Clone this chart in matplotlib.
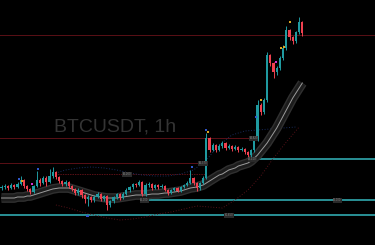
import numpy as np
import matplotlib.pyplot as plt

# ---- candle data (BTCUSDT, 1h) ----
first_open = 62120
closes = [62130, 62140, 62120, 62150, 62130, 62160, 62200, 62140, 62110, 62080,
          62140, 62200, 62170, 62220, 62180, 62240, 62280, 62230, 62190, 62160,
          62180, 62140, 62110, 62070, 62100, 62050, 62010, 62030, 62000, 62030,
          62060, 62010, 62040, 61950, 61990, 62030, 62060, 62020, 62060, 62100,
          62130, 62160, 62150, 62180, 62060, 62150, 62160, 62120, 62150, 62130,
          62140, 62100, 62070, 62100, 62120, 62090, 62130, 62150, 62170, 62220,
          62170, 62120, 62170, 62220, 62620, 62500, 62550, 62500, 62540, 62570,
          62520, 62540, 62510, 62530, 62500, 62510, 62480, 62450, 62500, 62600,
          62950, 62880, 63000, 63450, 63370, 63280, 63320, 63420, 63520, 63700,
          63630, 63590, 63680, 63780, 63670]
highs = [62150, 62160, 62150, 62170, 62160, 62180, 62240, 62210, 62150, 62120,
         62150, 62290, 62220, 62240, 62240, 62310, 62330, 62290, 62240, 62200,
         62200, 62190, 62150, 62120, 62120, 62110, 62060, 62050, 62040, 62050,
         62080, 62070, 62050, 62050, 62000, 62040, 62070, 62070, 62080, 62120,
         62140, 62170, 62170, 62200, 62190, 62170, 62180, 62170, 62160, 62160,
         62160, 62150, 62110, 62110, 62130, 62130, 62140, 62160, 62190, 62300,
         62230, 62180, 62180, 62240, 62670, 62630, 62570, 62560, 62560, 62590,
         62580, 62560, 62550, 62550, 62540, 62530, 62520, 62490, 62510, 62620,
         63000, 62970, 63020, 63480, 63460, 63380, 63340, 63440, 63550, 63740,
         63710, 63640, 63690, 63830, 63790]
lows = [62100, 62110, 62100, 62110, 62110, 62120, 62150, 62120, 62090, 62060,
        62070, 62130, 62140, 62160, 62140, 62170, 62220, 62210, 62170, 62140,
        62140, 62120, 62090, 62050, 62050, 62020, 61970, 61940, 61980, 61980,
        62020, 61990, 61990, 61900, 61930, 61970, 62010, 62000, 62010, 62050,
        62080, 62110, 62130, 62140, 62040, 62040, 62130, 62100, 62110, 62110,
        62120, 62090, 62050, 62060, 62090, 62080, 62080, 62120, 62140, 62160,
        62150, 62090, 62100, 62160, 62210, 62480, 62490, 62480, 62490, 62520,
        62500, 62510, 62490, 62500, 62480, 62490, 62460, 62420, 62430, 62480,
        62590, 62850, 62860, 62980, 63340, 63220, 63250, 63300, 63400, 63500,
        63600, 63560, 63570, 63660, 63640]

# moving average ribbon (centre line)
ma_line = [62020, 62020, 62020, 62020, 62020, 62030, 62030, 62030, 62040, 62040,
           62050, 62060, 62070, 62080, 62090, 62100, 62110, 62115, 62120, 62120,
           62120, 62120, 62110, 62100, 62090, 62080, 62070, 62060, 62050, 62040,
           62035, 62030, 62025, 62020, 62020, 62020, 62020, 62025, 62030, 62035,
           62040, 62045, 62050, 62050, 62050, 62050, 62055, 62060, 62060, 62060,
           62065, 62070, 62070, 62075, 62080, 62085, 62090, 62100, 62110, 62120,
           62125, 62130, 62140, 62150, 62170, 62190, 62210, 62230, 62250, 62260,
           62280, 62300, 62310, 62320, 62340, 62350, 62360, 62370, 62390, 62420,
           62450, 62490, 62530, 62570, 62620, 62670, 62720, 62780, 62840, 62900,
           62960, 63020, 63070, 63120, 63170]

# dotted envelope
upper_idx = [16, 20, 24, 28, 32, 36, 40, 44, 48, 52, 56, 60, 64, 68, 72, 76, 80, 84, 88, 92]
upper_val = [62260, 62300, 62320, 62330, 62320, 62300, 62270, 62250, 62240, 62240,
             62260, 62300, 62400, 62550, 62650, 62690, 62700, 62710, 62720, 62730]
lower_idx = [17, 21, 25, 29, 33, 37, 41, 45, 49, 53, 57, 61, 65, 69, 73, 77, 81, 85, 89, 93]
lower_val = [61950, 61920, 61880, 61850, 61820, 61800, 61810, 61830, 61860, 61880,
             61910, 61940, 61930, 61920, 62000, 62100, 62240, 62420, 62580, 62730]

# horizontal levels
red_levels = [63650, 62620, 62370]
red_start = [-1, -1, -1]
red_end = [117, 79.8, 63.6]
red_dot_level = 62260
red_dot_span = [16.7, 63.6]
teal_levels = [62410, 62000, 61850]
teal_start = [77.7, 43.9, -1]

# signal markers
sig_idx = [5.5, 6.3, 9.5, 11.4, 26.9, 59.5, 64.0, 64.6, 79.5, 81.1, 85.8, 87.3, 88.2, 90.2]
sig_price = [62210, 62190, 62160, 62310, 61840, 62330, 62700, 62680, 62830, 63000,
             63380, 63520, 63530, 63780]
sig_color = ["#2f56c8", "#d9a521", "#d030d0", "#2f56c8", "#2f56c8", "#2f56c8", "#2f56c8",
             "#d9a521", "#2f56c8", "#d9a521", "#d030d0", "#d9a521", "#d9a521", "#d9a521"]

# price tags on levels
tag_idx = [39.2, 44.6, 78.8, 63.0, 78.4, 105.0, 71.0]
tag_price = [62260, 62000, 62620, 62370, 62410, 62000, 61850]
tag_text = ["62,260", "62,000", "62,620", "62,370", "62,410", "62,000", "61,850"]

UP = "#1f9aa0"
DOWN = "#f0404f"
TEAL = "#2a9096"
DARKRED = "#5a1016"

fig = plt.figure(figsize=(3.75, 2.45), dpi=100, facecolor="black")
ax = fig.add_axes([0, 0, 1, 1])
ax.set_facecolor("black")
ax.set_xlim(-0.47, 116.7)
ax.set_ylim(61550, 64000)
ax.axis("off")

# level lines
for lvl, x0, x1 in zip(red_levels, red_start, red_end):
    ax.hlines(lvl, x0, x1, color=DARKRED, lw=0.7, zorder=1)
ax.hlines(red_dot_level, red_dot_span[0], red_dot_span[1], color=DARKRED, lw=0.7,
          linestyles=(0, (1.5, 1)), zorder=1)
for lvl, x0 in zip(teal_levels, teal_start):
    ax.hlines(lvl, x0, 117, color=TEAL, lw=1.4, zorder=1)

# envelope
ax.plot(upper_idx, upper_val, color="#182b5c", lw=0.7, ls=(0, (1, 1.8)), zorder=1)
ax.plot(lower_idx, lower_val, color="#561219", lw=0.7, ls=(0, (1, 1.8)), zorder=1)

# ma ribbon
idx = np.arange(len(closes))
ax.plot(idx, ma_line, color="#303030", lw=7.0, solid_capstyle="butt", zorder=2)
ax.plot(idx, ma_line, color="#1c1c1c", lw=5.0, solid_capstyle="butt", zorder=2)
ax.plot(idx, ma_line, color="#9c9c9c", lw=0.7, zorder=2)

# candles
c = np.array(closes)
o = np.array([first_open] + closes[:-1])
h = np.array(highs)
l = np.array(lows)
colors = np.where(c >= o, UP, DOWN)
ax.vlines(idx, l, h, colors=colors, lw=0.7, zorder=3)
body = np.maximum(np.abs(c - o), 8)
ax.bar(idx, body, bottom=np.minimum(o, c), width=0.68, color=colors, lw=0, zorder=3)

# markers
ax.scatter(sig_idx, sig_price, s=2.5, c=sig_color, marker="s", lw=0, zorder=4)

# tags
for x, y, t in zip(tag_idx, tag_price, tag_text):
    ax.text(x, y, t, fontsize=1.8, color="#8a8a8a", ha="center", va="center", zorder=5,
            bbox=dict(boxstyle="square,pad=0.2", fc="#2a2a2a", ec="none"))

ax.text(0.307, 0.482, "BTCUSDT, 1h", transform=ax.transAxes, ha="center", va="center",
        fontsize=14, color="#343434", family="Liberation Sans", zorder=0)

fig.savefig("out.png", dpi=100, facecolor="black")
